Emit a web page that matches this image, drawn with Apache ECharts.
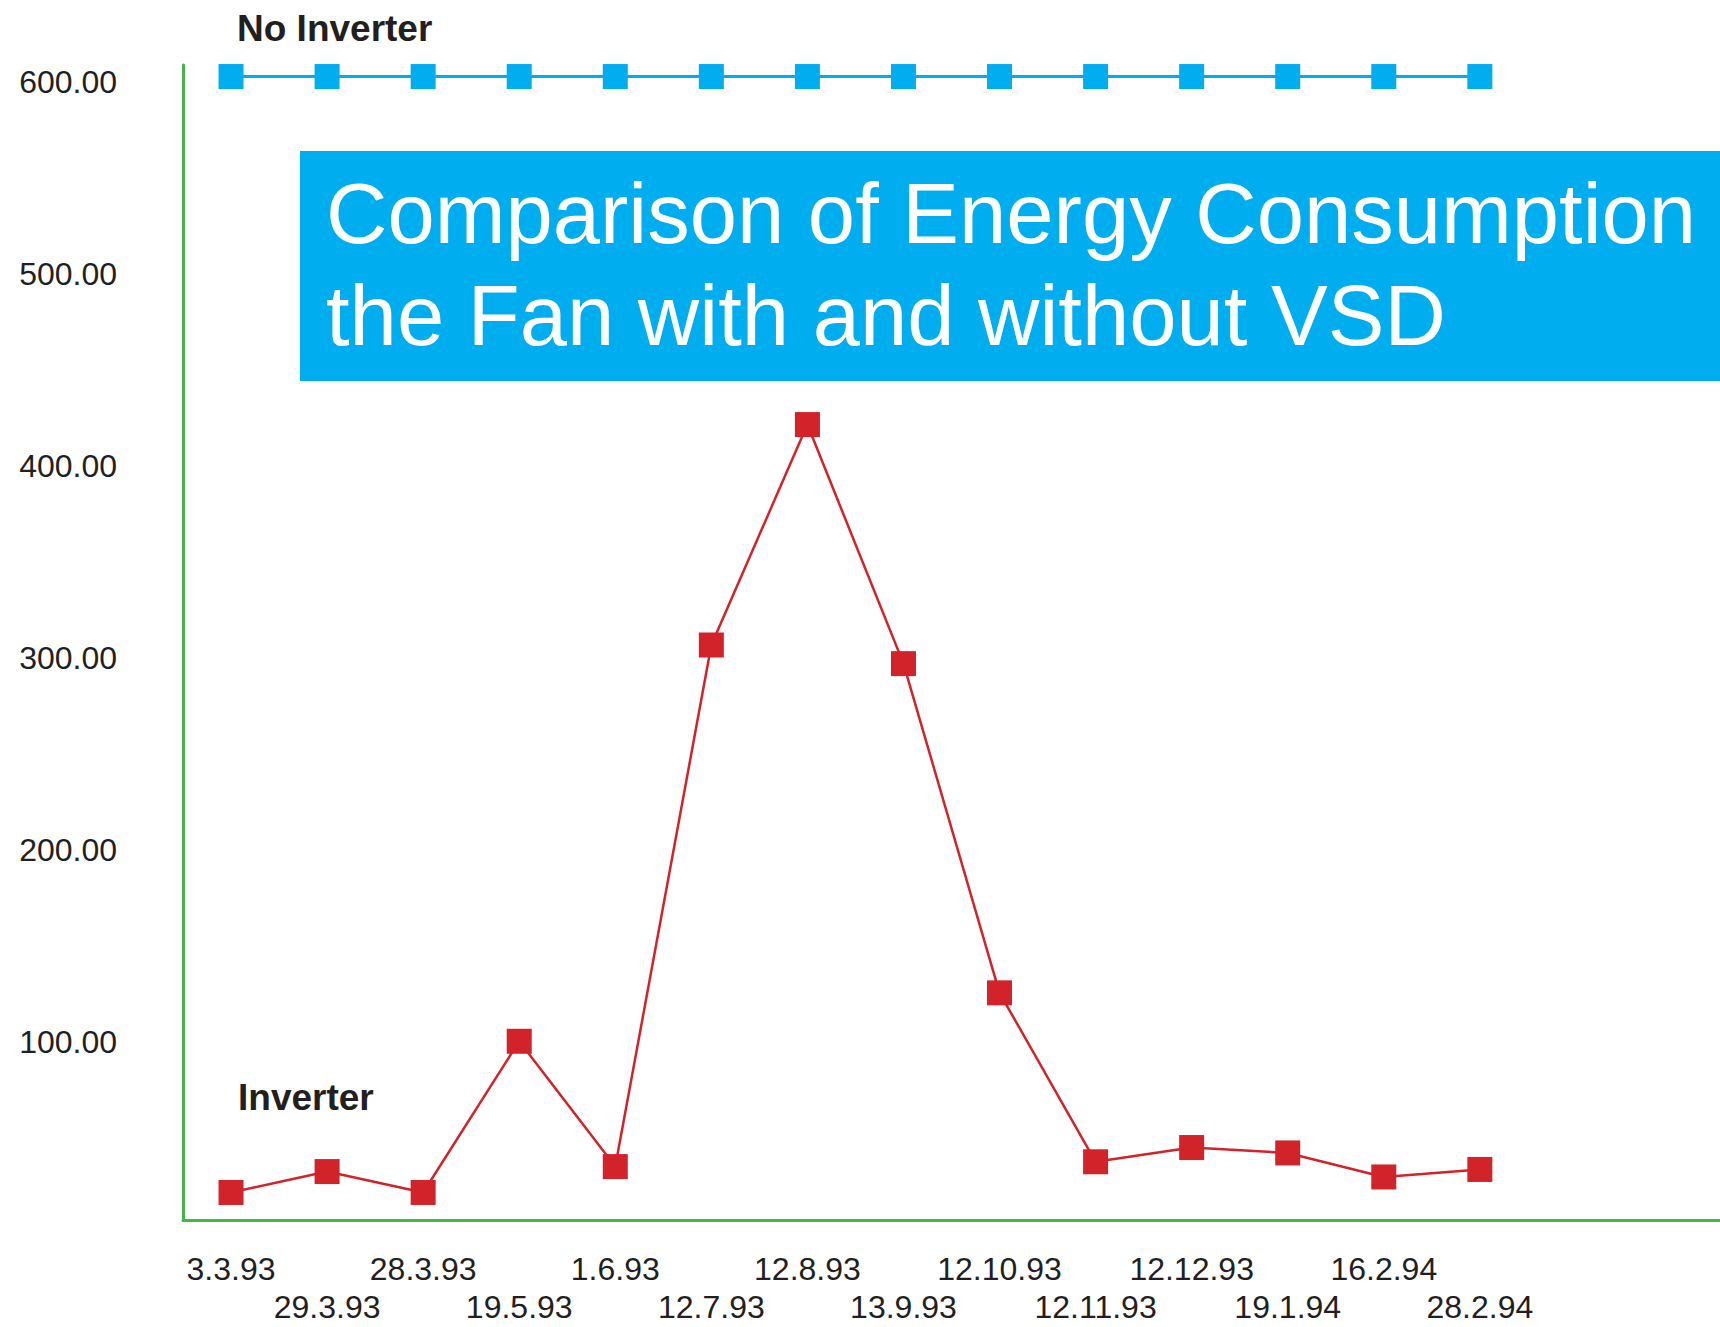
<!DOCTYPE html>
<html>
<head>
<meta charset="utf-8">
<script src="https://cdn.jsdelivr.net/npm/echarts@6/dist/echarts.min.js"></script>
<style>
html,body{margin:0;padding:0;background:#fff;}
#chart{width:1720px;height:1327px;}
</style>
</head>
<body>
<div id="chart"></div>
<script>
const dates = ['3.3.93','29.3.93','28.3.93','19.5.93','1.6.93','12.7.93','12.8.93','13.9.93','12.10.93','12.11.93','12.12.93','19.1.94','16.2.94','28.2.94'];
const inverter = [19.3, 30.2, 19.3, 98.0, 32.8, 304.2, 418.9, 294.5, 123.2, 35.3, 42.7, 39.9, 27.4, 31.3];
const noInverter = [600, 600, 600, 600, 600, 600, 600, 600, 600, 600, 600, 600, 600, 600];
const titleLines = ['Comparison of Energy Consumption', 'the Fan with and without VSD'];

const FONT = "'Liberation Sans', Arial, Helvetica, sans-serif";
const TXT = '#231f20';
const GREEN = '#44b649';
const BLUE = '#00aeef';
const RED = '#d2232a';

const chart = echarts.init(document.getElementById('chart'), null, {renderer: 'svg'});
chart.setOption({
  animation: false,
  backgroundColor: '#ffffff',
  textStyle: {fontFamily: FONT},
  grid: {left: 183, right: 0, top: 65, bottom: 107, containLabel: false},
  xAxis: {
    type: 'category',
    data: dates,
    boundaryGap: true,
    max: 15,
    axisLine: {show: true, lineStyle: {color: GREEN, width: 3}},
    axisTick: {show: false},
    splitLine: {show: false},
    axisLabel: {
      interval: 0,
      hideOverlap: false,
      fontSize: 32,
      lineHeight: 38,
      margin: 30,
      color: TXT,
      fontFamily: FONT,
      formatter: function (val, idx) {
        if (idx >= dates.length) return '';
        return idx % 2 ? '\n' + dates[idx] : dates[idx];
      }
    }
  },
  yAxis: {
    type: 'value',
    min: 5,
    max: 606,
    splitNumber: 6,
    axisLine: {show: true, lineStyle: {color: GREEN, width: 3}},
    axisTick: {show: false},
    splitLine: {show: false},
    axisLabel: {
      showMinLabel: false,
      showMaxLabel: false,
      fontSize: 32,
      lineHeight: 10,
      verticalAlign: 'top',
      margin: 66,
      color: TXT,
      fontFamily: FONT,
      formatter: function (v) { return v.toFixed(2); }
    }
  },
  series: [
    {
      name: 'No Inverter',
      type: 'line',
      data: noInverter,
      symbol: 'rect',
      symbolSize: 25,
      itemStyle: {color: BLUE},
      lineStyle: {color: BLUE, width: 3},
      z: 3
    },
    {
      name: 'Inverter',
      type: 'line',
      data: inverter,
      symbol: 'rect',
      symbolSize: 25,
      itemStyle: {color: RED},
      lineStyle: {color: RED, width: 2.5},
      z: 3
    }
  ],
  graphic: [
    {type: 'rect', left: 300, top: 151, shape: {width: 1420, height: 230}, style: {fill: BLUE}, z: 10},
    {type: 'text', x: 326, y: 213, z: 11, style: {text: titleLines[0], fill: '#ffffff', font: '85px ' + FONT, verticalAlign: 'middle'}},
    {type: 'text', x: 326, y: 315, z: 11, style: {text: titleLines[1], fill: '#ffffff', font: '85px ' + FONT, verticalAlign: 'middle'}},
    {type: 'text', x: 237, y: 28, z: 11, style: {text: 'No Inverter', fill: TXT, font: 'bold 37px ' + FONT, verticalAlign: 'middle'}},
    {type: 'text', x: 238, y: 1097, z: 11, style: {text: 'Inverter', fill: TXT, font: 'bold 37px ' + FONT, verticalAlign: 'middle'}}
  ]
});
</script>
</body>
</html>
